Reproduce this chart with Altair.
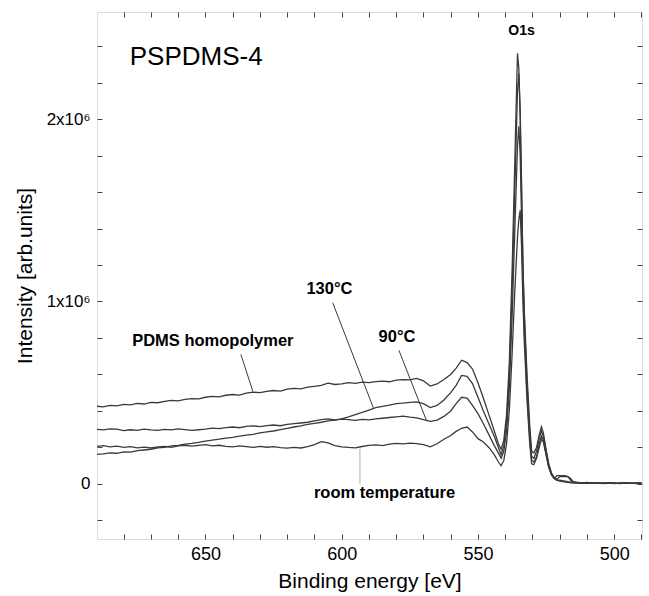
import altair as alt
import pandas as pd

# ---------------- data (binding energy in eV, intensity in units of 1e6) ----------------
energy_flat = [690, 687.5, 685, 682.5, 680, 677.5, 675, 672.5, 670, 667.5, 665, 662.5, 660, 657.5,
               655, 652.5, 650, 647.5, 645, 642.5, 640, 637.5, 635, 632.5, 630, 627.5, 625, 622.5,
               620, 617.5, 615, 612.5, 610, 607.5, 605, 602.5, 600, 597.5, 595, 592.5, 590, 587.5,
               585, 582.5, 580, 577.5, 575, 572.5, 570, 567.5, 565, 562.5, 560]
energy_mid = [558, 556, 554, 552, 550, 548, 546, 544, 542.5]
energy_peak = [541.5, 540.5, 539.5, 538.5, 537.5, 536.5, 535.5, 535, 534.5, 534, 533.5, 533, 532,
               531, 530.3, 529.5, 528.5, 527.5, 526.7, 526, 525, 524, 523, 522, 521, 520, 519, 518,
               517, 516, 515, 514, 512, 510, 508, 506, 504, 502, 500, 498, 496, 494, 492, 490]

pdms_flat = [.426, .422, .431, .428, .436, .433, .441, .438, .447, .445, .452, .458, .455, .463,
             .468, .466, .475, .48, .477, .486, .49, .487, .498, .503, .5, .507, .512, .509,
             .52, .524, .521, .53, .535, .54, .552, .545, .548, .555, .551, .558, .555, .561,
             .563, .56, .569, .572, .57, .578, .565, .536, .548, .572, .60]
pdms_mid = [.635, .678, .665, .63, .555, .47, .38, .29, .22]
pdms_peak = [.19, .24, .38, .66, 1.15, 1.75, 2.36, 2.28, 2.0, 1.6, 1.2, .95, .6, .32, .18, .17, .2,
             .27, .313, .28, .19, .11, .06, .035, .025, .04, .042, .04, .04, .03, .012, .01, .005,
             .008, .004, .006, .003, .005, .004, .002, .005, .003, .004, .005]

t130_flat = [.162, .165, .17, .168, .176, .174, .182, .186, .19, .197, .2, .208, .211, .218,
             .222, .228, .235, .24, .245, .251, .255, .262, .268, .272, .28, .285, .29, .298,
             .305, .312, .318, .326, .332, .338, .345, .35, .357, .368, .38, .392, .405, .418,
             .425, .432, .44, .443, .447, .45, .44, .418, .43, .46, .50]
t130_mid = [.54, .595, .59, .55, .475, .40, .33, .26, .20]
t130_peak = [.16, .21, .34, .6, 1.05, 1.6, 2.15, 2.25, 2.05, 1.65, 1.2, .92, .55, .28, .15, .14,
             .18, .25, .29, .26, .18, .1, .05, .03, .02, .02, .018, .015, .012, .01, .01, .008,
             .006, .004, .007, .003, .005, .004, .006, .003, .004, .005, .002, .004]

t90_flat = [.299, .296, .302, .3, .292, .297, .294, .3, .296, .293, .299, .296, .302, .298,
            .294, .297, .3, .306, .303, .309, .312, .308, .315, .318, .314, .32, .323, .319,
            .326, .33, .334, .338, .346, .352, .356, .351, .355, .352, .348, .354, .351, .356,
            .36, .364, .368, .372, .366, .362, .352, .343, .35, .37, .40]
t90_mid = [.44, .475, .47, .43, .385, .33, .27, .21, .17]
t90_peak = [.14, .18, .29, .52, .9, 1.38, 1.85, 1.96, 1.8, 1.45, 1.1, .85, .5, .25, .13, .12,
            .15, .22, .262, .24, .16, .09, .05, .03, .02, .015, .012, .01, .008, .006, .005, .004,
            .006, .003, .005, .004, .002, .005, .003, .004, .006, .003, .004, .003]

rt_flat = [.205, .21, .203, .207, .2, .204, .198, .202, .197, .203, .206, .2, .208, .212,
           .207, .211, .215, .209, .212, .206, .203, .208, .204, .2, .206, .201, .204, .199,
           .196, .2, .197, .205, .215, .232, .225, .21, .203, .2, .198, .205, .211, .214,
           .21, .218, .222, .219, .224, .221, .215, .203, .22, .245, .265]
rt_mid = [.288, .305, .312, .285, .248, .23, .2, .16, .12]
rt_peak = [.10, .13, .22, .4, .7, 1.05, 1.35, 1.45, 1.5, 1.3, 1.0, .78, .46, .22, .11, .105,
           .14, .2, .244, .23, .16, .09, .05, .03, .045, .045, .045, .045, .04, .02, .01, .006,
           .004, .007, .003, .005, .004, .006, .002, .005, .004, .003, .005, .004]

# annotation texts and their anchor points (energy, intensity)
label_text = ["PDMS homopolymer", "130°C", "90°C", "room temperature"]
label_x = [647.3, 604.5, 579.7, 584.3]
label_y = [0.782, 1.066, 0.803, -0.049]

# leader lines from labels to curves
ptr_x1 = [637.0, 603.3, 579.0, 593.3]
ptr_y1 = [0.71, 0.993, 0.732, 0.195]
ptr_x2 = [632.6, 588.4, 568.8, 593.3]
ptr_y2 = [0.507, 0.417, 0.344, 0.0]
ptr_col = ["#3a3a3a", "#3a3a3a", "#3a3a3a", "#b0b0b0"]

title_text = ["PSPDMS-4"]
title_x = [677.8]
title_y = [2.342]
peak_text = ["O1s"]
peak_x = [534.0]
peak_y = [2.485]

x_ticks = list(range(490, 691, 10))
y_ticks = [-0.2, 0.0, 0.2, 0.4, 0.6, 0.8, 1.0, 1.2, 1.4, 1.6, 1.8, 2.0, 2.2, 2.4]

# ---------------- build table ----------------
energy = energy_flat + energy_mid + energy_peak
series = {
    "PDMS homopolymer": pdms_flat + pdms_mid + pdms_peak,
    "130°C": t130_flat + t130_mid + t130_peak,
    "90°C": t90_flat + t90_mid + t90_peak,
    "room temperature": rt_flat + rt_mid + rt_peak,
}
rows = []
for name, vals in series.items():
    assert len(vals) == len(energy), (name, len(vals), len(energy))
    for e, v in zip(energy, vals):
        rows.append({"series": name, "energy": e, "intensity": v})
df = pd.DataFrame(rows)

labels_df = pd.DataFrame({"text": label_text, "x": label_x, "y": label_y})
ptr_df = pd.DataFrame({"x1": ptr_x1, "y1": ptr_y1, "x2": ptr_x2, "y2": ptr_y2, "c": ptr_col})
title_df = pd.DataFrame({"text": title_text, "x": title_x, "y": title_y})
peak_df = pd.DataFrame({"text": peak_text, "x": peak_x, "y": peak_y})

W, H = 545, 527
FONT = "Liberation Sans"
xscale = alt.Scale(domain=[489.8, 689.8], reverse=True, nice=False, zero=False)
yscale = alt.Scale(domain=[-0.302, 2.587], nice=False, zero=False)

lines = alt.Chart(df).mark_line(color="#3a3a3a", strokeWidth=1.3, clip=True).encode(
    x=alt.X("energy:Q", scale=xscale,
            axis=alt.Axis(title="Binding energy [eV]", values=[500, 550, 600, 650], ticks=False,
                          domain=False, grid=False, labelFontSize=18, titleFontSize=21,
                          labelPadding=6, titlePadding=7, titleFontWeight="normal",
                          labelColor="black", titleColor="black", labelFont=FONT, titleFont=FONT)),
    y=alt.Y("intensity:Q", scale=yscale,
            axis=alt.Axis(title="Intensity [arb.units]", values=[0, 1, 2], ticks=False,
                          domain=False, grid=False,
                          labelExpr="datum.value == 0 ? '0' : datum.value + 'x10⁶'",
                          labelFontSize=17, titleFontSize=21, labelPadding=7, titlePadding=11,
                          titleFontWeight="normal", labelColor="black", titleColor="black",
                          labelFont=FONT, titleFont=FONT)),
    detail="series:N",
)

tick_ax = dict(labels=False, domain=False, grid=False, title=None, ticks=True, tickSize=5,
               tickColor="#444444", tickWidth=1)
ticks_a = alt.Chart(df).mark_point(opacity=0).encode(
    x=alt.X("energy:Q", scale=xscale, axis=alt.Axis(orient="top", offset=-H, values=x_ticks, **tick_ax)),
    y=alt.Y("intensity:Q", scale=yscale, axis=alt.Axis(orient="right", offset=-W, values=y_ticks, **tick_ax)),
)
ticks_b = alt.Chart(df).mark_point(opacity=0).encode(
    x=alt.X("energy:Q", scale=xscale, axis=alt.Axis(orient="bottom", offset=-H, values=x_ticks, **tick_ax)),
    y=alt.Y("intensity:Q", scale=yscale, axis=alt.Axis(orient="left", offset=-W, values=y_ticks, **tick_ax)),
)

rules = alt.Chart(ptr_df).mark_rule(strokeWidth=1).encode(
    x=alt.X("x1:Q", scale=xscale, axis=None),
    y=alt.Y("y1:Q", scale=yscale, axis=None),
    x2="x2:Q",
    y2="y2:Q",
    color=alt.Color("c:N", scale=None),
)

labels = alt.Chart(labels_df).mark_text(font=FONT, fontSize=16.5, fontWeight="bold", color="black",
                                        align="center", baseline="middle").encode(
    x=alt.X("x:Q", scale=xscale, axis=None),
    y=alt.Y("y:Q", scale=yscale, axis=None),
    text="text:N",
)

title = alt.Chart(title_df).mark_text(font=FONT, fontSize=26, color="black",
                                      align="left", baseline="middle").encode(
    x=alt.X("x:Q", scale=xscale, axis=None),
    y=alt.Y("y:Q", scale=yscale, axis=None),
    text="text:N",
)

peak = alt.Chart(peak_df).mark_text(font=FONT, fontSize=14, fontWeight="bold", color="black",
                                    align="center", baseline="middle").encode(
    x=alt.X("x:Q", scale=xscale, axis=None),
    y=alt.Y("y:Q", scale=yscale, axis=None),
    text="text:N",
)

chart = alt.layer(lines, ticks_a, ticks_b, rules, labels, title, peak).resolve_axis(
    x="independent", y="independent"
).properties(
    width=W, height=H,
    autosize=alt.AutoSizeParams(type="none"),
    padding={"left": 97, "top": 12, "right": 7, "bottom": 57},
    background="white",
).configure_view(stroke="#444444", strokeWidth=1).configure(font=FONT)

chart.save("out.html", embed_options={"renderer": "svg", "actions": False})
